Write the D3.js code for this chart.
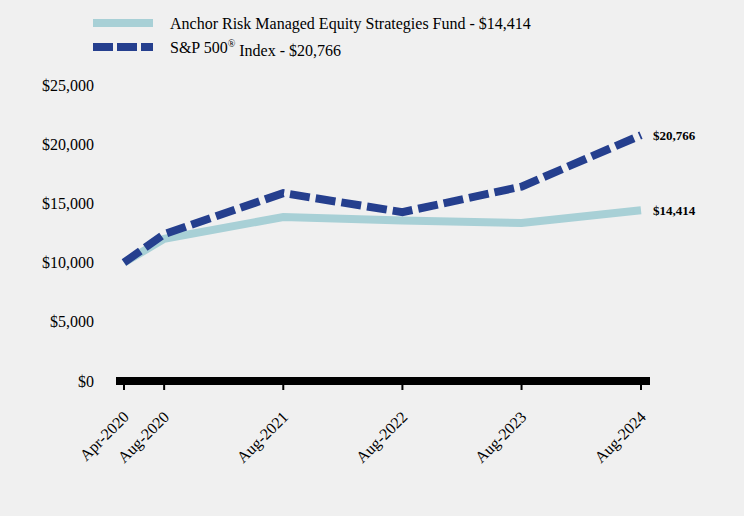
<!DOCTYPE html>
<html><head><meta charset="utf-8">
<script src="https://cdn.jsdelivr.net/npm/d3@7"></script>
<style>body{margin:0;background:#f0f0f0}svg{display:block}</style>
</head><body>
<script>
const dates = ["2020-04-30","2020-08-31","2021-08-31","2022-08-31","2023-08-31","2024-08-31"];
const tickLabels = ["Apr-2020","Aug-2020","Aug-2021","Aug-2022","Aug-2023","Aug-2024"];
const fundValues = [10000, 12000, 13850, 13560, 13340, 14414];
const spValues = [10000, 12400, 15870, 14260, 16420, 20766];
const yTicks = [0, 5000, 10000, 15000, 20000, 25000];
const seriesNames = ["Anchor Risk Managed Equity Strategies Fund - $14,414", "S&P 500® Index - $20,766"];
const endLabels = ["$14,414", "$20,766"];

const W = 744, H = 516;
const svg = d3.select("body").append("svg").attr("width", W).attr("height", H);
svg.append("rect").attr("width", W).attr("height", H).attr("fill", "#f0f0f0");
const parse = d3.timeParse("%Y-%m-%d");
const dd = dates.map(parse);
const x = d3.scaleTime().domain([dd[0], dd[dd.length-1]]).range([124, 641]);
const y = d3.scaleLinear().domain([0, 25000]).range([381, 85]);
const font = "'Liberation Serif','Times New Roman',serif";

// y labels
svg.selectAll(".yl").data(yTicks).enter().append("text")
  .attr("x", 94).attr("y", d => y(d)).attr("dy", "0.35em")
  .attr("text-anchor", "end").attr("font-family", font).attr("font-size", 16).attr("fill", "#000")
  .text(d => "$" + d3.format(",")(d));

// x axis bar
svg.append("line").attr("x1", 116).attr("x2", 650).attr("y1", 381).attr("y2", 381)
  .attr("stroke", "#000").attr("stroke-width", 8);
svg.selectAll(".xt").data(dd).enter().append("line")
  .attr("x1", d => x(d)).attr("x2", d => x(d)).attr("y1", 384).attr("y2", 390)
  .attr("stroke", "#000").attr("stroke-width", 2);
svg.selectAll(".xl").data(dd).enter().append("text")
  .attr("transform", d => `translate(${x(d)+2},${414}) rotate(-45)`)
  .attr("text-anchor", "end").attr("dy", "0.35em")
  .attr("font-family", font).attr("font-size", 16).attr("fill", "#000")
  .text((d,i) => tickLabels[i]);

const line = d3.line().x((d,i) => x(dd[i])).y(d => y(d));
svg.append("path").attr("d", line(fundValues)).attr("fill", "none")
  .attr("stroke", "#a8d0d6").attr("stroke-width", 8).attr("stroke-linejoin", "miter");
svg.append("path").attr("d", line(spValues)).attr("fill", "none")
  .attr("stroke", "#253f8e").attr("stroke-width", 8).attr("stroke-dasharray", "20,6");

// end labels
[fundValues, spValues].forEach((v, i) => {
  svg.append("text").attr("x", 653).attr("y", y(v[v.length-1])).attr("dy", "0.35em")
    .attr("font-family", font).attr("font-size", 13).attr("font-weight", "bold").attr("fill", "#000")
    .text(endLabels[i]);
});

// legend
const lg = [{c:"#a8d0d6", dash:null, y:23}, {c:"#253f8e", dash:"20,4", y:47}];
lg.forEach((l, i) => {
  svg.append("line").attr("x1", 93).attr("x2", 153).attr("y1", l.y).attr("y2", l.y)
    .attr("stroke", l.c).attr("stroke-width", 8).attr("stroke-dasharray", l.dash);
  const t = svg.append("text").attr("x", 170).attr("y", l.y).attr("dy", "0.35em")
    .attr("font-family", font).attr("font-size", 16).attr("fill", "#000");
  if (i === 1) {
    t.append("tspan").text("S&P 500");
    t.append("tspan").attr("font-size", 10).attr("dy", "-0.6em").text("®");
    t.append("tspan").attr("dy", "0.6em").text(" Index - $20,766");
  } else t.text(seriesNames[0]);
});
</script>
</body></html>
